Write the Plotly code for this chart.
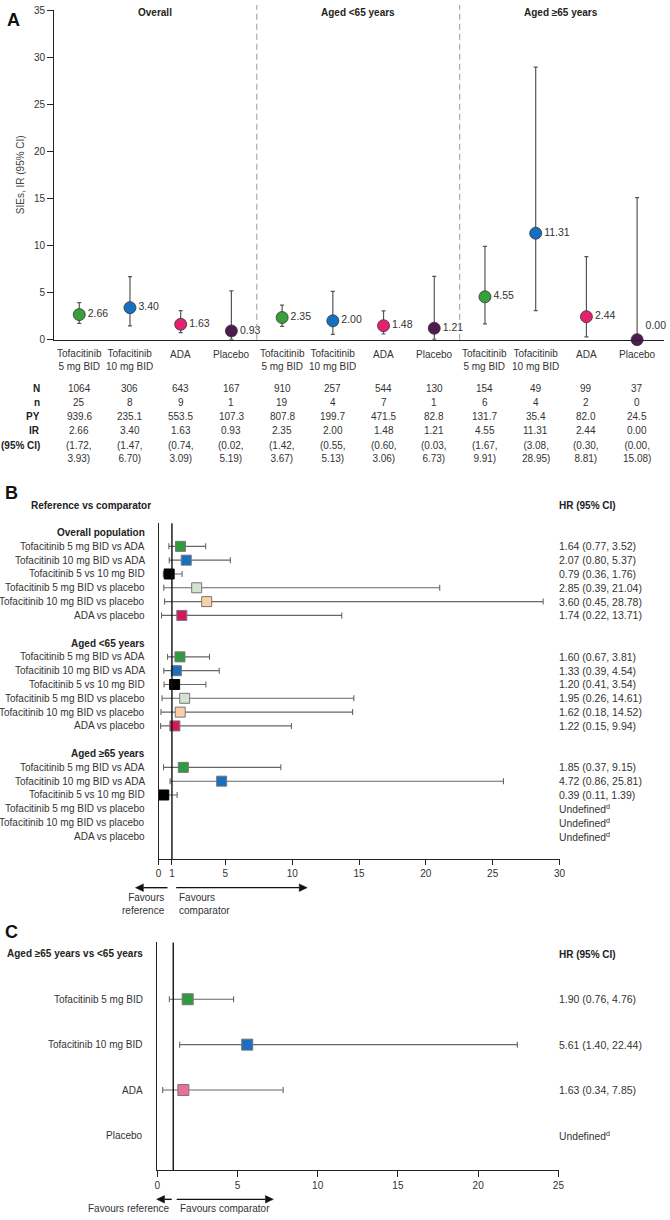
import plotly.graph_objects as go

W, H = 670, 1220
FONT = "Liberation Sans, Arial, Helvetica, sans-serif"
TXT = "#333333"

def px(x):
    return x / W

def py(y):
    return 1 - y / H

# ---------------- Panel A data ----------------
a_groups = ["Overall", "Aged <65 years", "Aged ≥65 years"]
a_treatments = ["Tofacitinib<br>5 mg BID", "Tofacitinib<br>10 mg BID", "ADA", "Placebo"]
a_ir = [2.66, 3.40, 1.63, 0.93, 2.35, 2.00, 1.48, 1.21, 4.55, 11.31, 2.44, 0.00]
a_lo = [1.72, 1.47, 0.74, 0.02, 1.42, 0.55, 0.60, 0.03, 1.67, 3.08, 0.30, 0.00]
a_hi = [3.93, 6.70, 3.09, 5.19, 3.67, 5.13, 3.06, 6.73, 9.91, 28.95, 8.81, 15.08]
a_N = [1064, 306, 643, 167, 910, 257, 544, 130, 154, 49, 99, 37]
a_n = [25, 8, 9, 1, 19, 4, 7, 1, 6, 4, 2, 0]
a_py = [939.6, 235.1, 553.5, 107.3, 807.8, 199.7, 471.5, 82.8, 131.7, 35.4, 82.0, 24.5]
a_colors = ["#38a03b", "#1570c1", "#e2216f", "#4d1b4d"]
a_yticks = [0, 5, 10, 15, 20, 25, 30, 35]

# ---------------- Panel B data ----------------
b_groups = ["Overall population", "Aged <65 years", "Aged ≥65 years"]
b_comparisons = [
    "Tofacitinib 5 mg BID vs ADA",
    "Tofacitinib 10 mg BID vs ADA",
    "Tofacitinib 5 vs 10 mg BID",
    "Tofacitinib 5 mg BID vs placebo",
    "Tofacitinib 10 mg BID vs placebo",
    "ADA vs placebo",
]
b_hr = [[1.64, 2.07, 0.79, 2.85, 3.60, 1.74],
        [1.60, 1.33, 1.20, 1.95, 1.62, 1.22],
        [1.85, 4.72, 0.39, None, None, None]]
b_lo = [[0.77, 0.80, 0.36, 0.39, 0.45, 0.22],
        [0.67, 0.39, 0.41, 0.26, 0.18, 0.15],
        [0.37, 0.86, 0.11, None, None, None]]
b_hi = [[3.52, 5.37, 1.76, 21.04, 28.78, 13.71],
        [3.81, 4.54, 3.54, 14.61, 14.52, 9.94],
        [9.15, 25.81, 1.39, None, None, None]]
b_colors = ["#2f9a3e", "#1a6fbe", "#000000", "#d3e3cf", "#fbd0a8", "#d5175f"]
b_xticks = [0, 1, 5, 10, 15, 20, 25, 30]

# ---------------- Panel C data ----------------
c_header = "Aged ≥65 years vs <65 years"
c_labels = ["Tofacitinib 5 mg BID", "Tofacitinib 10 mg BID", "ADA", "Placebo"]
c_hr = [1.90, 5.61, 1.63, None]
c_lo = [0.76, 1.40, 0.34, None]
c_hi = [4.76, 22.44, 7.85, None]
c_colors = ["#2f9a3e", "#1a6fbe", "#e8709a", None]
c_xticks = [0, 5, 10, 15, 20, 25]

fig = go.Figure()
ann = []
shapes = []

def A(text, x, y, xref="paper", yref="paper", size=10, bold=False, xanchor="center",
      yanchor="middle", color=TXT, align="center", angle=0):
    ann.append(dict(text=f"<b>{text}</b>" if bold else text, x=x, y=y, xref=xref, yref=yref,
                    showarrow=False, xanchor=xanchor, yanchor=yanchor, align=align,
                    textangle=angle, font=dict(family=FONT, size=size, color=color)))

# ================= Panel A =================
idx = list(range(len(a_ir)))
txtpos = ["top right" if v == 0 else "middle right" for v in a_ir]
fig.add_trace(go.Scatter(
    x=idx, y=a_ir, mode="markers+text",
    text=[f"{v:.2f}" for v in a_ir], textposition=txtpos,
    textfont=dict(family=FONT, size=10.5, color=TXT),
    marker=dict(size=12, color=[a_colors[i % 4] for i in idx], line=dict(color="#333", width=0.8)),
    error_y=dict(type="data", symmetric=False,
                 array=[h - v for h, v in zip(a_hi, a_ir)],
                 arrayminus=[v - l for v, l in zip(a_ir, a_lo)],
                 color="#555", thickness=1.2, width=2),
    cliponaxis=False, xaxis="x", yaxis="y", showlegend=False, hoverinfo="skip"))

for g, name in enumerate(a_groups):
    A(name, 4 * g + 1.5, py(8), xref="x", size=10, bold=True, color="#222")
for k in (1, 2):
    shapes.append(dict(type="line", xref="x", yref="paper", x0=4 * k - 0.5, x1=4 * k - 0.5,
                       y0=py(337.7), y1=1, line=dict(color="#aaaaaa", width=1.2, dash="6px,4px")))

for i in idx:
    lab = a_treatments[i % 4]
    A(lab, i, py(358.5 if "<br>" in lab else 352.7), xref="x", size=10)
    A(str(a_N[i]), i, py(387), xref="x", size=10)
    A(str(a_n[i]), i, py(401), xref="x", size=10)
    A(f"{a_py[i]:.1f}", i, py(415.7), xref="x", size=10)
    A(f"{a_ir[i]:.2f}", i, py(429.7), xref="x", size=10)
    A(f"({a_lo[i]:.2f},<br>{a_hi[i]:.2f})", i, py(450.7), xref="x", size=10)

for lab, yy in [("N", 387), ("n", 401), ("PY", 415.7), ("IR", 429.7), ("(95% CI)", 444.5)]:
    A(lab, px(39.5), py(yy), xanchor="right", size=10, bold=True, color="#222")

A("A", px(10.5), py(15), size=18, bold=True, color="#111")
A("SIEs, IR (95% CI)", px(18), py(171), size=10, angle=-90, color="#444")

# ================= Panel B =================
bx, by, bex, bexm, bc, bl = [], [], [], [], [], []
for g in range(3):
    A(b_groups[g], px(145.7), 8 * g, yref="y2", xanchor="right", size=10, bold=True, color="#222")
    for k in range(6):
        row = 8 * g + 1 + k
        A(b_comparisons[k], px(145.7), row, yref="y2", xanchor="right", size=10)
        hr = b_hr[g][k]
        if hr is None:
            A("Undefined<sup>d</sup>", px(562), row, yref="y2", xanchor="left", size=10.3)
            continue
        A(f"{hr:.2f} ({b_lo[g][k]:.2f}, {b_hi[g][k]:.2f})", px(562), row, yref="y2",
          xanchor="left", size=10.5)
        bx.append(hr); by.append(row)
        bex.append(b_hi[g][k] - hr); bexm.append(hr - b_lo[g][k])
        bc.append(b_colors[k]); bl.append("#000" if b_colors[k] == "#000000" else "#777")

fig.add_trace(go.Scatter(
    x=bx, y=by, mode="markers",
    marker=dict(symbol="square", size=10, color=bc, line=dict(color=bl, width=1)),
    error_x=dict(type="data", symmetric=False, array=bex, arrayminus=bexm,
                 color="#666", thickness=1.1, width=3),
    cliponaxis=False, xaxis="x2", yaxis="y2", showlegend=False, hoverinfo="skip"))

shapes.append(dict(type="line", xref="x2", yref="y2 domain", x0=1, x1=1, y0=0, y1=1,
                   line=dict(color="#111", width=1.4)))
A("B", px(8.5), py(492.5), size=18, bold=True, color="#111")
A("Reference vs comparator", px(26.7), py(505), xanchor="left", size=10, bold=True, color="#222")
A("HR (95% CI)", px(562), py(505), xanchor="left", size=10, bold=True, color="#222")

def arrow(x_head, x_tail, y):
    d = 1 if x_head > x_tail else -1
    base = x_head - d * 8
    shapes.append(dict(type="line", xref="paper", yref="paper", x0=px(x_tail), x1=px(base),
                       y0=py(y), y1=py(y), line=dict(color="#111", width=1.4)))
    path = (f"M {px(x_head)} {py(y)} L {px(base)} {py(y - 3.8)} "
            f"L {px(base)} {py(y + 3.8)} Z")
    shapes.append(dict(type="path", xref="paper", yref="paper", path=path,
                       fillcolor="#111", line=dict(color="#111", width=0.5)))

arrow(134.3, 166.7, 890.7)
arrow(308.3, 175.5, 890.7)
A("Favours<br>reference", px(166.7), py(907), xanchor="right", align="right", size=10)
A("Favours<br>comparator", px(176), py(907), xanchor="left", align="left", size=10)

# ================= Panel C =================
cx, cy, cex, cexm, cc = [], [], [], [], []
A(c_header, px(144.3), 0, yref="y3", xanchor="right", size=10, bold=True, color="#222")
for k, lab in enumerate(c_labels):
    row = k + 1
    A(lab, px(144.3), row, yref="y3", xanchor="right", size=10)
    if c_hr[k] is None:
        A("Undefined<sup>d</sup>", px(562), row, yref="y3", xanchor="left", size=10.3)
        continue
    A(f"{c_hr[k]:.2f} ({c_lo[k]:.2f}, {c_hi[k]:.2f})", px(562), row, yref="y3",
      xanchor="left", size=10.5)
    cx.append(c_hr[k]); cy.append(row)
    cex.append(c_hi[k] - c_hr[k]); cexm.append(c_hr[k] - c_lo[k]); cc.append(c_colors[k])

fig.add_trace(go.Scatter(
    x=cx, y=cy, mode="markers",
    marker=dict(symbol="square", size=11, color=cc, line=dict(color="#777", width=1)),
    error_x=dict(type="data", symmetric=False, array=cex, arrayminus=cexm,
                 color="#666", thickness=1.1, width=3),
    cliponaxis=False, xaxis="x3", yaxis="y3", showlegend=False, hoverinfo="skip"))

shapes.append(dict(type="line", xref="x3", yref="y3 domain", x0=1, x1=1, y0=0, y1=1,
                   line=dict(color="#111", width=1.4)))
A("C", px(8.8), py(935), size=18, bold=True, color="#111")
A("HR (95% CI)", px(562), py(958), xanchor="left", size=10, bold=True, color="#222")
arrow(155.7, 171, 1205.2)
arrow(274, 176, 1205.2)
A("Favours reference", px(171), py(1214), xanchor="right", size=10)
A("Favours comparator", px(177.7), py(1214), xanchor="left", size=10)

# ================= Layout =================
axis_common = dict(showgrid=False, zeroline=False, showline=True, linecolor="#222",
                   linewidth=1.4, tickcolor="#222", tickfont=dict(family=FONT, size=10, color=TXT),
                   fixedrange=True, ticklabeloverflow="allow")

fig.update_layout(
    width=W, height=H, margin=dict(l=0, r=0, t=0, b=0),
    paper_bgcolor="white", plot_bgcolor="white",
    font=dict(family=FONT, size=10, color=TXT),
    xaxis=dict(domain=[px(52), 1], range=[-0.492, 11.53], anchor="y", showticklabels=False,
               ticks="", **axis_common),
    yaxis=dict(domain=[py(337.7), py(5.2)], range=[0, 35], anchor="x", tickvals=a_yticks,
               ticks="outside", ticklen=6, **axis_common),
    xaxis2=dict(domain=[px(157.7), px(564.3)], range=[0, 30.02], anchor="y2", tickvals=b_xticks,
                ticks="outside", ticklen=5, **axis_common),
    yaxis2=dict(domain=[py(862), py(523)], range=[23.65, -0.67], anchor="x2",
                showticklabels=False, ticks="", **axis_common),
    xaxis3=dict(domain=[px(156.3), px(563.3)], range=[0, 25.02], anchor="y3", tickvals=c_xticks,
                ticks="outside", ticklen=6, **axis_common),
    yaxis3=dict(domain=[py(1175.7), py(946)], range=[4.764, -0.251], anchor="x3",
                showticklabels=False, ticks="", **axis_common),
    annotations=ann, shapes=shapes,
)

fig.write_html("out.html", config={"displayModeBar": False},
               post_script="document.body.style.margin='0px';document.body.style.padding='0px';")
